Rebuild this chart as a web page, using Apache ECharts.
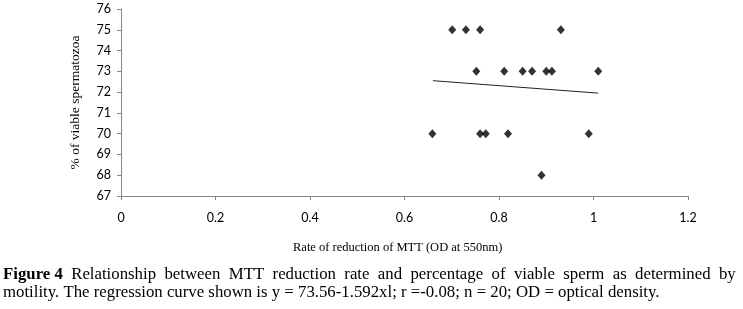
<!DOCTYPE html>
<html>
<head>
<meta charset="utf-8">
<script src="https://cdn.jsdelivr.net/npm/echarts@6/dist/echarts.min.js"></script>
<style>
  html, body { margin: 0; padding: 0; background: #fff; }
  #mttChart { width: 743px; height: 309px; }
</style>
</head>
<body>
<div id="mttChart"></div>
<script>
// MTT reduction rate (x) vs % viable spermatozoa (y)
var mttRate = [0.701, 0.730, 0.760, 0.931,
               0.752, 0.811, 0.850, 0.870, 0.900, 0.912, 1.010,
               0.659, 0.760, 0.772, 0.819, 0.990,
               0.890];
var viablePct = [75, 75, 75, 75,
                 73, 73, 73, 73, 73, 73, 73,
                 70, 70, 70, 70, 70,
                 68];
// regression line end points
var trendX = [0.66, 1.01];
var trendY = [72.55, 71.95];
var xTicks = [0, 0.2, 0.4, 0.6, 0.8, 1, 1.2];
var yTicks = [67, 68, 69, 70, 71, 72, 73, 74, 75, 76];

var chart = echarts.init(document.getElementById('mttChart'));

var points = mttRate.map(function (x, i) { return [x, viablePct[i]]; });
var trend = trendX.map(function (x, i) { return [x, trendY[i]]; });

var axisGray = '#868686';
var tickFont = 'Lato';

// caption, first line is justified in the original so the gaps are widened
var captionLine1 = 'Relationship  between  MTT  reduction  rate  and  percentage  of  viable  sperm  as  determined  by';
var captionLine2 = 'motility. The regression curve shown is y = 73.56-1.592xl; r =-0.08; n = 20; OD = optical density.';

chart.setOption({
  animation: false,
  title: [
    {
      text: 'Rate of reduction of MTT (OD at 550nm)',
      left: 293, top: 241, padding: 0,
      textStyle: { fontFamily: 'Liberation Serif', fontSize: 12.5, fontWeight: 'normal', color: '#000' }
    },
    {
      text: '{b|Figure 4}  ' + captionLine1 + '\n' + captionLine2,
      left: 3, top: 266, padding: 0,
      textStyle: {
        fontFamily: 'Liberation Serif', fontSize: 16.8, fontWeight: 'normal', color: '#000', lineHeight: 18,
        rich: { b: { fontFamily: 'Liberation Serif', fontSize: 16.8, fontWeight: 'bold', color: '#000', lineHeight: 18 } }
      }
    }
  ],
  grid: { left: 121, right: 55, top: 9, bottom: 113 },
  xAxis: {
    type: 'value',
    min: 0, max: 1.2, interval: 0.2,
    splitLine: { show: false },
    axisLine: { lineStyle: { color: axisGray } },
    axisTick: { show: true, length: 4, inside: false, lineStyle: { color: axisGray } },
    axisLabel: {
      margin: 15, color: '#000', fontFamily: tickFont, fontSize: 12.5,
      formatter: function (v) {
        var t = xTicks.find(function (x) { return Math.abs(x - v) < 1e-6; });
        return t === undefined ? '' : String(t);
      }
    }
  },
  yAxis: {
    type: 'value',
    min: 67, max: 76, interval: 1,
    name: '% of viable spermatozoa',
    nameLocation: 'middle',
    nameGap: 39,
    nameRotate: 90,
    nameTextStyle: { fontFamily: 'Liberation Serif', fontSize: 13.5, color: '#000' },
    splitLine: { show: false },
    axisLine: { show: true, lineStyle: { color: axisGray } },
    axisTick: { show: true, length: 4, lineStyle: { color: axisGray } },
    axisLabel: {
      margin: 10, color: '#000', fontFamily: tickFont, fontSize: 12.5,
      formatter: function (v) { return yTicks.indexOf(v) >= 0 ? String(v) : ''; }
    }
  },
  series: [
    {
      type: 'line',
      data: trend,
      symbol: 'none',
      lineStyle: { color: '#222', width: 1 },
      z: 1
    },
    {
      type: 'scatter',
      data: points,
      symbol: 'diamond',
      symbolSize: [8, 9],
      itemStyle: { color: '#000' },
      z: 2
    }
  ]
});
</script>
</body>
</html>
